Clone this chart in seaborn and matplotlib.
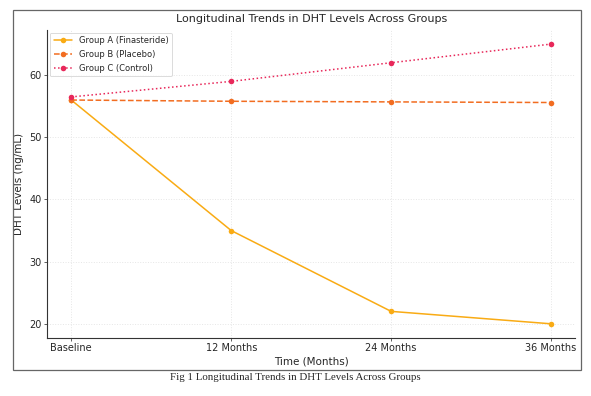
import matplotlib
matplotlib.use("Agg")
import matplotlib.pyplot as plt
import pandas as pd
import seaborn as sns
from matplotlib.patches import Rectangle

timepoints = ["Baseline", "12 Months", "24 Months", "36 Months"]
group_a = [56.0, 35.0, 22.0, 20.0]
group_b = [56.0, 55.8, 55.7, 55.6]
group_c = [56.5, 59.0, 62.0, 65.0]
groups = ["Group A (Finasteride)", "Group B (Placebo)", "Group C (Control)"]

colors = ["#f9ab14", "#f26d21", "#e8285a"]
styles = ["-", "--", ":"]

sns.set_style("white")
plt.rcParams["font.family"] = ["DejaVu Sans"]

fig = plt.figure(figsize=(5.91, 3.96), dpi=100)
ax = fig.add_axes([0.08, 0.147, 0.893, 0.777])

# outer frame around the figure image
fig.patches.append(Rectangle((0.022, 0.066), 0.961, 0.909, transform=fig.transFigure,
                             fill=False, edgecolor="#666666", linewidth=0.9))

x = list(range(len(timepoints)))
for vals, name, c, ls in zip([group_a, group_b, group_c], groups, colors, styles):
    df = pd.DataFrame({"t": x, "v": vals})
    sns.lineplot(data=df, x="t", y="v", ax=ax, color=c, linestyle=ls, marker="o",
                 markersize=4, markeredgewidth=0, linewidth=1.1, label=name)

ax.set_xticks(x)
ax.set_xticklabels(timepoints, fontsize=7)
ax.tick_params(axis="y", labelsize=7)
ax.tick_params(axis="both", length=2, width=0.6, color="#444444", pad=2, bottom=True, left=True)
ax.grid(True, color="#e6e6e6", linestyle=":", linewidth=0.7)
ax.set_xlabel("Time (Months)", fontsize=7.5, labelpad=2)
ax.set_ylabel("DHT Levels (ng/mL)", fontsize=7.5, labelpad=4)
ax.set_title("Longitudinal Trends in DHT Levels Across Groups", fontsize=8, pad=6)

for s in ["top", "right"]:
    ax.spines[s].set_visible(False)
for s in ["left", "bottom"]:
    ax.spines[s].set_color("#333333")
    ax.spines[s].set_linewidth(0.8)

leg = ax.legend(loc="upper left", fontsize=6, frameon=True, borderpad=0.45,
                handlelength=2.2, labelspacing=0.55, borderaxespad=0.3)
leg.get_frame().set_edgecolor("#cccccc")
leg.get_frame().set_linewidth(0.6)

fig.text(0.5, 0.047, "Fig 1 Longitudinal Trends in DHT Levels Across Groups",
         ha="center", va="center", fontsize=7.8, family=["Liberation Serif"])

fig.savefig("out.png", dpi=100)
